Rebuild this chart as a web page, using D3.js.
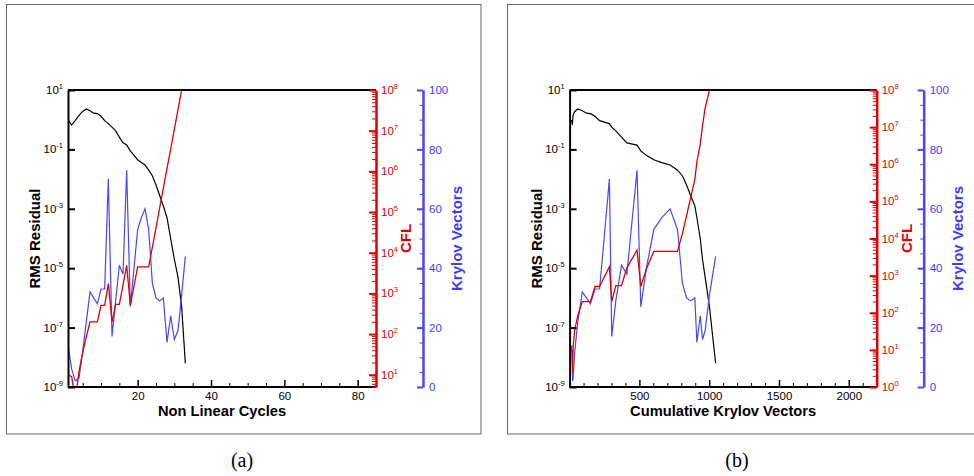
<!DOCTYPE html>
<html><head><meta charset="utf-8">
<script src="https://cdn.jsdelivr.net/npm/d3@7"></script>
<style>
body{margin:0;background:#fff}
svg{display:block}
text{font-family:"Liberation Sans",Arial,sans-serif}
</style>
</head><body>
<svg id="chart" width="974" height="476"></svg>
<script>
// ---------------- data ----------------
const cycles = [1,2,3,4,5,6,7,8,9,10,11,12,13,14,15,16,17,18,19,20,21,22,23,24,25,26,27,28,29,30,31,32,33];
const rmsResidual = [0.98,0.66,0.95,1.4,1.9,2.3,2.0,1.66,1.6,1.3,0.93,0.74,0.56,0.42,0.26,0.166,0.14,0.089,0.063,0.045,0.036,0.030,0.020,0.013,6.3e-3,2.8e-3,1.26e-3,5e-4,1e-4,2e-5,5e-6,5e-7,6.3e-9];
const cflValues = [10,9,2.5,12,35,85,200,200,200,510,510,1740,200,540,540,1600,4900,510,1500,4500,4500,4500,4500,1.35e4,4.1e4,1.26e5,3.8e5,1.17e6,3.5e6,1.07e7,3.3e7,1e8,3e8];
const krylovVectors = [14,6,2,3,12,22,32,30,28,33,33,70,17,29,41,38,73,27,40,53,57,60,53,35,30,29,30,15,24,16,19,31,44];
const cumulativeKrylov = [14,20,22,25,37,59,91,121,149,182,215,285,302,331,372,410,483,510,550,603,660,720,773,808,838,867,897,912,936,952,971,1002,1046];

const cycleTicks = [20,40,60,80];
const cumTicks = [500,1000,1500,2000];
const rmsTickExp = [1,-1,-3,-5,-7,-9];
const cflTickExp = [0,1,2,3,4,5,6,7,8];
const krylovTicks = [0,20,40,60,80,100];

// ---------------- drawing ----------------
const svg = d3.select('#chart');
const RED = '#e00000', BLUE = '#4646ff', BLUE_TXT = '#3c3cff';
const TOP = 90, BOTTOM = 387;

function powLabel(g, x, y, exp, anchor, color) {
  const t = g.append('text').attr('x', x).attr('y', y)
    .attr('text-anchor', anchor).attr('fill', color).style('font-size', '11.5px');
  t.append('tspan').text('10');
  t.append('tspan').attr('dy', -5).style('font-size', '7.5px').text(String(exp));
  return t;
}

function panel(o) {
  const g = svg.append('g');
  // frame
  g.append('rect').attr('x', o.frame[0] + 0.5).attr('y', 4.5)
    .attr('width', o.frame[1] - o.frame[0]).attr('height', 429.5)
    .attr('fill', 'none').attr('stroke', '#666').attr('stroke-width', 1);

  const x = d3.scaleLinear().domain(o.xDomain).range([o.x0, o.x1]);
  const yR = d3.scaleLog().domain([1e-9, 10]).range([BOTTOM, TOP]);
  const yC = d3.scaleLog().domain([o.cflMin, 1e8]).range([BOTTOM, TOP]);
  const yK = d3.scaleLinear().domain([0, 100]).range([BOTTOM, TOP]);

  const clipId = 'clip' + o.id;
  svg.append('clipPath').attr('id', clipId).append('rect')
    .attr('x', o.x0).attr('y', TOP).attr('width', o.x1 - o.x0).attr('height', BOTTOM - TOP);

  const plot = g.append('g').attr('clip-path', `url(#${clipId})`);
  const xv = o.xVals;
  plot.append('path').datum(rmsResidual)
    .attr('d', d3.line().x((d, i) => x(xv[i])).y(d => yR(d)))
    .attr('fill', 'none').attr('stroke', '#000').attr('stroke-width', 1.2);
  plot.append('path').datum(krylovVectors)
    .attr('d', d3.line().x((d, i) => x(xv[i])).y(d => yK(d)))
    .attr('fill', 'none').attr('stroke', BLUE).attr('stroke-width', 1.2);
  plot.append('path').datum(cflValues)
    .attr('d', d3.line().x((d, i) => x(xv[i])).y(d => yC(d)))
    .attr('fill', 'none').attr('stroke', RED).attr('stroke-width', 1.3);

  // top border
  g.append('line').attr('x1', o.x0).attr('x2', o.x1).attr('y1', TOP).attr('y2', TOP)
    .attr('stroke', '#000').attr('stroke-width', 2);

  // bottom axis
  const minorX = d3.range(o.minorStep, o.xDomain[1] + 0.001, o.minorStep)
    .filter(v => v >= o.xDomain[0] && !o.xTicks.includes(v));
  const bx = g.append('g').attr('transform', `translate(0,${BOTTOM})`);
  bx.call(d3.axisBottom(x).tickValues(minorX).tickSizeInner(-4).tickSizeOuter(0).tickFormat(''));
  bx.call(g2 => g2.selectAll('.domain').remove());
  const bx2 = g.append('g').attr('transform', `translate(0,${BOTTOM})`);
  bx2.call(d3.axisBottom(x).tickValues(o.xTicks).tickSizeInner(-7).tickSizeOuter(0).tickPadding(5)
    .tickFormat(d3.format('d')));
  bx2.selectAll('text').style('font-size', '11.5px').attr('fill', '#000');
  bx2.selectAll('line').attr('stroke', '#000').attr('stroke-width', 1.5);
  bx.selectAll('line').attr('stroke', '#000').attr('stroke-width', 1);
  g.append('line').attr('x1', o.x0).attr('x2', o.x1).attr('y1', BOTTOM).attr('y2', BOTTOM)
    .attr('stroke', '#000').attr('stroke-width', 2);

  // left axis (RMS)
  const ly = g.append('g').attr('transform', `translate(${o.x0},0)`);
  ly.call(d3.axisLeft(yR).tickValues(rmsTickExp.map(e => Math.pow(10, e))).tickSizeInner(-7).tickSizeOuter(0).tickFormat(''));
  ly.selectAll('line').attr('stroke', '#000').attr('stroke-width', 2);
  ly.select('.domain').attr('stroke', '#000').attr('stroke-width', 2);
  rmsTickExp.forEach(e => powLabel(g, o.x0 - 5, yR(Math.pow(10, e)) + 4, e, 'end', '#000'));

  // red CFL axis
  const cflMinor = [];
  for (let e = 0; e < 8; e++) for (let m = 2; m <= 9; m++) {
    const v = m * Math.pow(10, e);
    if (v >= o.cflMin && v <= 1e8) cflMinor.push(v);
  }
  const cflMajor = cflTickExp.map(e => Math.pow(10, e)).filter(v => v >= o.cflMin);
  const ry = g.append('g').attr('transform', `translate(${o.x1},0)`);
  ry.call(d3.axisRight(yC).tickValues(cflMinor).tickSizeInner(-4).tickSizeOuter(0).tickFormat(''));
  ry.selectAll('line').attr('stroke', RED).attr('stroke-width', 1);
  ry.select('.domain').remove();
  const ry2 = g.append('g').attr('transform', `translate(${o.x1},0)`);
  ry2.call(d3.axisRight(yC).tickValues(cflMajor).tickSizeInner(-7).tickSizeOuter(0).tickFormat(''));
  ry2.selectAll('line').attr('stroke', RED).attr('stroke-width', 2);
  ry2.select('.domain').attr('stroke', RED).attr('stroke-width', 2.5);
  cflTickExp.filter(e => Math.pow(10, e) >= o.cflMin)
    .forEach(e => powLabel(g, o.x1 + 5, yC(Math.pow(10, e)) + 4, e, 'start', RED));

  // blue Krylov axis
  const kx = o.x1 + 47;
  const ky = g.append('g').attr('transform', `translate(${kx},0)`);
  ky.call(d3.axisRight(yK).tickValues(d3.range(0, 101, 5).filter(v => !krylovTicks.includes(v)))
    .tickSizeInner(-3.5).tickSizeOuter(0).tickFormat(''));
  ky.selectAll('line').attr('stroke', BLUE).attr('stroke-width', 1);
  ky.select('.domain').remove();
  const ky2 = g.append('g').attr('transform', `translate(${kx},0)`);
  ky2.call(d3.axisRight(yK).tickValues(krylovTicks).tickSizeInner(-6).tickSizeOuter(0).tickPadding(6));
  ky2.selectAll('line').attr('stroke', BLUE).attr('stroke-width', 2);
  ky2.select('.domain').attr('stroke', BLUE).attr('stroke-width', 2.5);
  ky2.selectAll('text').style('font-size', '11.5px').attr('fill', BLUE_TXT);

  // titles
  const cy = (TOP + BOTTOM) / 2;
  const title = (tx, txt, color) => g.append('text')
    .attr('transform', `translate(${tx},${cy}) rotate(-90)`)
    .attr('text-anchor', 'middle').attr('fill', color)
    .style('font-size', '15px').style('font-weight', 'bold').text(txt);
  title(o.x0 - 28, 'RMS Residual', '#000');
  title(o.x1 + 35, 'CFL', RED);
  title(kx + 39, 'Krylov Vectors', BLUE_TXT);
  g.append('text').attr('x', (o.x0 + o.x1) / 2).attr('y', 416)
    .attr('text-anchor', 'middle').style('font-size', '14.7px').style('font-weight', 'bold')
    .text(o.xTitle);
  g.append('text').attr('x', o.captionX).attr('y', 467)
    .attr('text-anchor', 'middle').style('font-family', '"Liberation Serif","DejaVu Serif",serif')
    .style('font-size', '20px').text(o.caption);
}

panel({id: 'a', frame: [6, 480.5], x0: 68, x1: 376, xDomain: [1, 85], xTicks: cycleTicks,
  minorStep: 5, xVals: cycles, cflMin: 5, xTitle: 'Non Linear Cycles', caption: '(a)', captionX: 242});
panel({id: 'b', frame: [507, 980], x0: 569.6, x1: 876.7, xDomain: [0, 2200], xTicks: cumTicks,
  minorStep: 100, xVals: cumulativeKrylov, cflMin: 1, xTitle: 'Cumulative Krylov Vectors', caption: '(b)', captionX: 737});
</script>
</body></html>
